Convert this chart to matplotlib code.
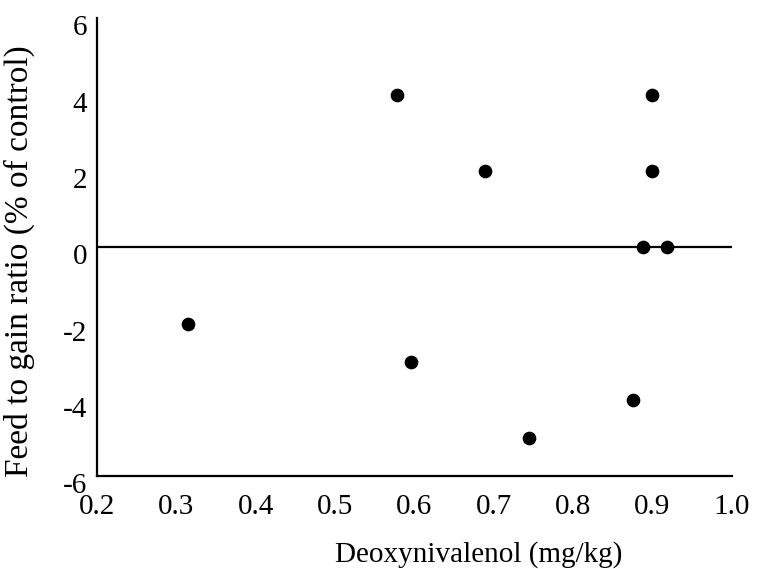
import matplotlib
matplotlib.use("Agg")
import matplotlib.pyplot as plt
import matplotlib.transforms as transforms

# Data
don_levels = [0.315, 0.578, 0.596, 0.689, 0.744, 0.875, 0.888, 0.900, 0.900, 0.918]
feed_to_gain = [-2, 4, -3, 2, -5, -4, 0, 4, 2, 0]

x_ticks = [0.2, 0.3, 0.4, 0.5, 0.6, 0.7, 0.8, 0.9, 1.0]
x_tick_labels = ["0.2", "0.3", "0.4", "0.5", "0.6", "0.7", "0.8", "0.9", "1.0"]
y_ticks = [-6, -4, -2, 0, 2, 4, 6]
y_tick_labels = ["-6", "-4", "-2", "0", "2", "4", "6"]

plt.rcParams["font.family"] = ["Liberation Serif", "DejaVu Serif"]

fig = plt.figure(figsize=(7.63, 5.69), dpi=100)
# axes box in figure fractions (left spine ~97px, bottom spine ~476px)
ax = fig.add_axes([0.127, 0.163, 0.832, 0.805])

# Scatter of the individual observations
ax.scatter(don_levels, feed_to_gain, s=78, color="black", zorder=3)

# Reference line at zero
ax.axhline(0, color="black", linewidth=1.6, zorder=2)

ax.set_xlim(0.2, 1.0)
ax.set_ylim(-6, 6)
ax.set_xticks(x_ticks)
ax.set_xticklabels(x_tick_labels)
ax.set_yticks(y_ticks)
ax.set_yticklabels(y_tick_labels)
ax.tick_params(axis="both", length=0, labelsize=21)
ax.tick_params(axis="x", pad=13)
ax.tick_params(axis="y", pad=7)

# The printed y labels sit a bit lower than their values
offset = transforms.ScaledTranslation(0, -7 / 100, fig.dpi_scale_trans)
for label in ax.get_yticklabels():
    label.set_transform(label.get_transform() + offset)

ax.spines["top"].set_visible(False)
ax.spines["right"].set_visible(False)
ax.spines["left"].set_linewidth(1.6)
ax.spines["bottom"].set_linewidth(1.6)

ax.set_xlabel("Deoxynivalenol (mg/kg)", fontsize=21)
ax.set_ylabel("Feed to gain ratio (% of control)", fontsize=24)
# in the original both axis titles are off-centre
ax.xaxis.set_label_coords(0.602, -0.142)
ax.yaxis.set_label_coords(-0.097, 0.469)

fig.savefig("out.png", dpi=100)
